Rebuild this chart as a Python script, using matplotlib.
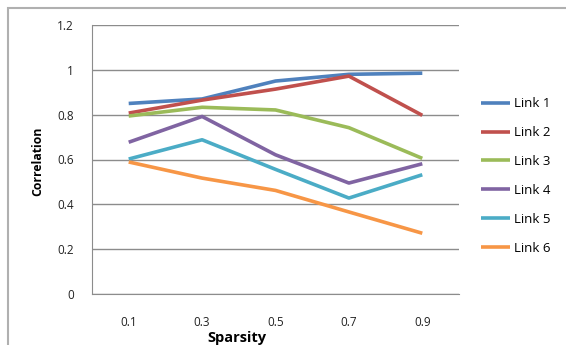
import matplotlib.pyplot as plt
from matplotlib.patches import Rectangle

sparsity = ['0.1', '0.3', '0.5', '0.7', '0.9']
link1 = [0.85, 0.87, 0.95, 0.98, 0.985]
link2 = [0.807, 0.865, 0.914, 0.972, 0.797]
link3 = [0.794, 0.833, 0.821, 0.742, 0.605]
link4 = [0.677, 0.792, 0.621, 0.495, 0.581]
link5 = [0.602, 0.688, 0.556, 0.428, 0.532]
link6 = [0.589, 0.517, 0.462, 0.366, 0.271]
names = ['Link 1', 'Link 2', 'Link 3', 'Link 4', 'Link 5', 'Link 6']
colors = ['#4F81BD', '#C0504D', '#9BBB59', '#8064A2', '#4BACC6', '#F79646']

plt.rcParams['font.family'] = ['Open Sans', 'DejaVu Sans']
fig = plt.figure(figsize=(5.66, 3.45), dpi=100)
ax = fig.add_axes([92/566, 1 - 294/345, (459-92)/566, (294-25)/345])

x = range(len(sparsity))
for ys, name, c in zip([link1, link2, link3, link4, link5, link6], names, colors):
    ax.plot(x, ys, color=c, lw=2.6, label=name, solid_capstyle='butt')

ax.set_xlim(-0.5, 4.5)
ax.set_ylim(0, 1.2)
ax.set_xticks(list(x))
ax.set_xticklabels(sparsity)
ax.set_yticks([0, 0.2, 0.4, 0.6, 0.8, 1.0, 1.2])
ax.set_yticklabels(['0', '0.2', '0.4', '0.6', '0.8', '1', '1.2'])
ax.grid(axis='y', color='#8c8c8c', lw=1)
ax.set_axisbelow(True)
for s in ['top', 'right']:
    ax.spines[s].set_visible(False)
for s in ['left', 'bottom']:
    ax.spines[s].set_color('#8c8c8c')
ax.tick_params(length=0, labelsize=8.5, pad=13, colors='#222222')
ax.tick_params(axis='x', pad=16)
ax.set_xlabel('Sparsity', fontsize=10.5, fontweight='bold', va='center')
ax.xaxis.set_label_coords((237-92)/367, (294-338)/269)
ax.set_ylabel('Correlation', fontsize=8.8, fontweight='bold', va='center')
ax.yaxis.set_label_coords((38-92)/367, (294-161)/269)

ax.legend(loc='center left', bbox_to_anchor=(476/566, 1 - 176/345),
          bbox_transform=fig.transFigure, frameon=False, borderaxespad=0,
          fontsize=9.5, handlelength=2.2, labelspacing=1.2, handletextpad=0.3)

fig.patches.append(Rectangle((8/566, -0.1), 1.2, 1.1 - 8/345, transform=fig.transFigure,
                             fill=False, edgecolor='#b0b0b0', lw=1.5))
fig.savefig('out.png', dpi=100)
